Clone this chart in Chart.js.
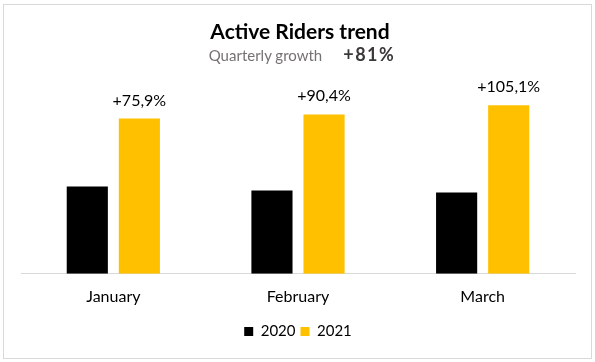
<!DOCTYPE html>
<html>
<head>
<meta charset="utf-8">
<script src="https://cdn.jsdelivr.net/npm/chart.js@4.4.1/dist/chart.umd.min.js"></script>
<style>
    html, body { margin: 0; padding: 0; background: #fff; }
    #wrap { position: relative; width: 595px; height: 362px; font-family: Lato, sans-serif; }
    #marco { position: absolute; left: 3px; top: 4px; width: 589px; height: 355px; border: 1px solid #d9d9d9; box-sizing: border-box; }
    canvas { position: absolute; left: 0; top: 0; }
    .titulo { position: absolute; left: 0; width: 595px; text-align: center; white-space: nowrap; }
    #tituloPrincipal { top: 20px; font-size: 21px; line-height: 21px; font-weight: bold; color: #000; padding-left: 5px; box-sizing: border-box; }
    #subtitulo { top: 47px; font-size: 15px; line-height: 15px; padding-left: 9px; box-sizing: border-box; }
    #subtitulo .texto { color: #767171; }
    #subtitulo .valor { color: #3b3838; font-weight: bold; font-size: 18px; margin-left: 21px; letter-spacing: 1.5px; }
</style>
</head>
<body>
<div id="wrap">
    <div id="marco"></div>
    <canvas id="graficoRiders" width="595" height="362"></canvas>
    <div class="titulo" id="tituloPrincipal">Active Riders trend</div>
    <div class="titulo" id="subtitulo"><span class="texto">Quarterly growth</span><span class="valor">+81%</span></div>
</div>
<script>
// Datos (unidades relativas, el eje Y no se muestra)
const meses = ['January', 'February', 'March'];
const riders2020 = [86, 82, 80];
const riders2021 = [153, 157, 166];
const crecimiento = ['+75,9%', '+90,4%', '+105,1%'];

/**
 * Dibuja las etiquetas de crecimiento encima de las barras de 2021
 */
const etiquetasCrecimiento = {
    id: 'etiquetasCrecimiento',
    afterDatasetsDraw(chart) {
        const ctx = chart.ctx;
        const meta = chart.getDatasetMeta(1);
        ctx.save();
        ctx.font = '16px Lato';
        ctx.fillStyle = '#000';
        ctx.textAlign = 'center';
        ctx.textBaseline = 'alphabetic';
        meta.data.forEach((barra, i) => {
            ctx.fillText(crecimiento[i], barra.x, barra.y - 13);
        });
        ctx.restore();
    }
};

const ctx = document.getElementById('graficoRiders').getContext('2d');
new Chart(ctx, {
    type: 'bar',
    data: {
        labels: meses,
        datasets: [
            { label: '2020', data: riders2020, backgroundColor: '#000000' },
            { label: '2021', data: riders2021, backgroundColor: '#FFC000' }
        ]
    },
    options: {
        responsive: false,
        devicePixelRatio: 1,
        animation: false,
        categoryPercentage: 0.564,
        barPercentage: 0.79,
        layout: {
            padding: { left: 21, right: 20, top: 81, bottom: 13 }
        },
        plugins: {
            legend: {
                position: 'bottom',
                labels: {
                    boxWidth: 9,
                    boxHeight: 9,
                    padding: 5,
                    color: '#000',
                    font: { family: 'Lato', size: 15 }
                }
            },
            tooltip: { enabled: false },
            title: { display: false }
        },
        scales: {
            x: {
                grid: { display: false, drawTicks: false },
                border: { display: true, color: '#d9d9d9', width: 1 },
                ticks: {
                    padding: 13,
                    color: '#000',
                    font: { family: 'Lato', size: 16 }
                }
            },
            y: {
                display: false,
                min: 0,
                max: 190
            }
        }
    },
    plugins: [etiquetasCrecimiento]
});
</script>
</body>
</html>
